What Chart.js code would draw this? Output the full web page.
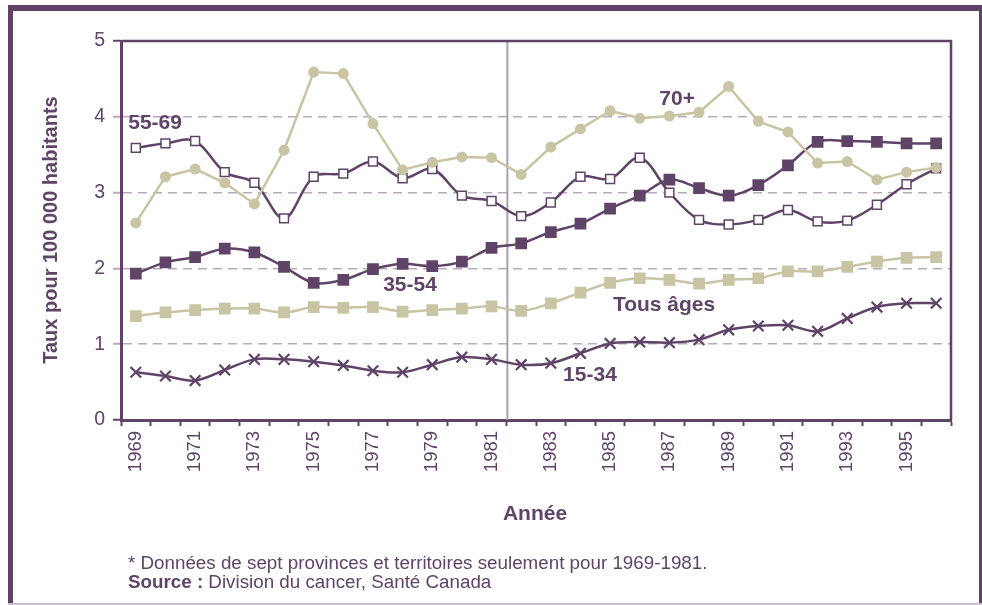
<!DOCTYPE html>
<html>
<head>
<meta charset="utf-8">
<script src="https://cdn.jsdelivr.net/npm/chart.js@4.4.1/dist/chart.umd.min.js"></script>
<style>
  html, body { margin: 0; padding: 0; background: #fff; }
  #wrap { position: relative; width: 982px; height: 605px; }
</style>
</head>
<body>
<div id="wrap"><canvas id="chart"></canvas></div>
<script>
// --- data ---
const years = [];
for (let y = 1969; y <= 1996; y++) years.push(String(y));

const age5569 = [3.59, 3.65, 3.68, 3.27, 3.13, 2.66, 3.21, 3.25, 3.41, 3.19, 3.31, 2.96, 2.89, 2.69,
                 2.87, 3.21, 3.18, 3.46, 3.00, 2.64, 2.58, 2.64, 2.77, 2.62, 2.63, 2.84, 3.11, 3.32];
const age70 = [2.60, 3.21, 3.31, 3.13, 2.85, 3.56, 4.59, 4.57, 3.91, 3.30, 3.40, 3.47, 3.46, 3.24,
               3.60, 3.84, 4.08, 3.98, 4.01, 4.06, 4.40, 3.94, 3.80, 3.39, 3.41, 3.17, 3.27, 3.33];
const age3554 = [1.93, 2.08, 2.15, 2.26, 2.21, 2.02, 1.81, 1.85, 1.99, 2.06, 2.03, 2.09, 2.27, 2.33,
                 2.48, 2.59, 2.79, 2.96, 3.17, 3.06, 2.96, 3.10, 3.36, 3.67, 3.68, 3.67, 3.65, 3.65];
const allAges = [1.37, 1.42, 1.45, 1.47, 1.47, 1.42, 1.49, 1.48, 1.49, 1.43, 1.45, 1.47, 1.50, 1.44,
                 1.54, 1.68, 1.81, 1.87, 1.85, 1.80, 1.85, 1.87, 1.96, 1.96, 2.02, 2.09, 2.14, 2.15];
const age1534 = [0.63, 0.58, 0.52, 0.66, 0.80, 0.80, 0.77, 0.72, 0.65, 0.63, 0.73, 0.83, 0.80, 0.73,
                 0.75, 0.88, 1.01, 1.03, 1.02, 1.06, 1.19, 1.24, 1.25, 1.17, 1.34, 1.49, 1.54, 1.54];

const seriesNames = ['55-69', '70+', '35-54', 'Tous âges', '15-34'];
const yTicks = [0, 1, 2, 3, 4, 5];

// --- colours ---
const purple = '#5f4468';
const khaki = '#c8c4a4';
const dashGrid = '#b9a9bb';
const splitLine = '#a99fab';
const fontFam = '"Liberation Sans", Arial, sans-serif';

// where the in-chart series names sit (category index, value)
const nameSpots = [
  { text: seriesNames[0], x: 0.65, y: 3.92 },
  { text: seriesNames[1], x: 18.26, y: 4.23 },
  { text: seriesNames[2], x: 9.25, y: 1.78 },
  { text: seriesNames[3], x: 17.82, y: 1.52 },
  { text: seriesNames[4], x: 15.32, y: 0.59 }
];

const decor = {
  id: 'decor',
  beforeDatasetsDraw(chart) {
    const { ctx, chartArea: a, scales: { x } } = chart;
    // 1982 split line
    const sx = x.getPixelForValue(12.5) + 1;
    ctx.save();
    ctx.strokeStyle = splitLine;
    ctx.lineWidth = 2;
    ctx.beginPath();
    ctx.moveTo(sx, a.top);
    ctx.lineTo(sx, a.bottom);
    ctx.stroke();
    ctx.restore();
  },
  afterDraw(chart) {
    const { ctx, chartArea: a, scales: { x, y } } = chart;
    ctx.save();
    // plot frame top + right
    ctx.strokeStyle = purple;
    ctx.lineWidth = 2.5;
    ctx.beginPath();
    ctx.moveTo(a.left, a.top);
    ctx.lineTo(a.right, a.top);
    ctx.lineTo(a.right, a.bottom);
    ctx.stroke();

    // outer frame
    ctx.fillStyle = purple;
    ctx.fillRect(8, 5, 974, 6);
    ctx.fillRect(8, 5, 5, 600);
    ctx.fillRect(979, 5, 3, 600);
    ctx.fillStyle = '#c9bccb';
    ctx.fillRect(8, 603, 974, 2);

    // series names
    ctx.fillStyle = purple;
    ctx.font = 'bold 21px ' + fontFam;
    ctx.textAlign = 'center';
    ctx.textBaseline = 'middle';
    nameSpots.forEach(s => {
      ctx.fillText(s.text, x.getPixelForValue(s.x), y.getPixelForValue(s.y));
    });

    // y title
    ctx.save();
    ctx.translate(51, 230);
    ctx.rotate(-Math.PI / 2);
    ctx.font = 'bold 20px ' + fontFam;
    ctx.fillText('Taux pour 100 000 habitants', 0, 0);
    ctx.restore();

    // x title
    ctx.font = 'bold 21px ' + fontFam;
    ctx.fillText('Année', 535, 514);

    // footnote
    ctx.textAlign = 'left';
    ctx.font = '18.8px ' + fontFam;
    ctx.fillText('* Données de sept provinces et territoires seulement pour 1969-1981.', 128, 564);
    ctx.font = 'bold 18.8px ' + fontFam;
    const src = 'Source :';
    ctx.fillText(src, 128, 583);
    const w = ctx.measureText(src).width;
    ctx.font = '18.8px ' + fontFam;
    ctx.fillText(' Division du cancer, Santé Canada', 128 + w, 583);
    ctx.restore();
  }
};

const ctx = document.getElementById('chart');
new Chart(ctx.getContext('2d'), {
  type: 'line',
  data: {
    labels: years,
    datasets: [
      {
        label: seriesNames[1], data: age70,
        borderColor: khaki, backgroundColor: khaki, borderWidth: 2.5, tension: 0,
        pointStyle: 'circle', pointRadius: 5.5, pointBorderWidth: 0
      },
      {
        label: seriesNames[3], data: allAges,
        borderColor: khaki, backgroundColor: khaki, borderWidth: 2.5, tension: 0.35,
        pointStyle: 'rect', pointRadius: 8.3, pointBorderWidth: 0
      },
      {
        label: seriesNames[0], data: age5569,
        borderColor: purple, backgroundColor: '#fff', borderWidth: 2.5, tension: 0.35,
        pointStyle: 'rect', pointRadius: 6.3, pointBorderWidth: 1.5
      },
      {
        label: seriesNames[2], data: age3554,
        borderColor: purple, backgroundColor: purple, borderWidth: 2.5, tension: 0.35,
        pointStyle: 'rect', pointRadius: 8.3, pointBorderWidth: 0
      },
      {
        label: seriesNames[4], data: age1534,
        borderColor: purple, backgroundColor: purple, borderWidth: 2.5, tension: 0.35,
        pointStyle: 'crossRot', pointRadius: 7.5, pointBorderWidth: 2.2
      }
    ]
  },
  options: {
    responsive: true,
    maintainAspectRatio: false,
    animation: false,
    layout: { padding: { left: 0, top: 41, right: 31, bottom: 0 } },
    plugins: { legend: { display: false }, tooltip: { enabled: false } },
    scales: {
      x: {
        type: 'category',
        offset: true,
        afterFit: (s) => { s.height = 185; },
        grid: { offset: true, drawOnChartArea: false, drawTicks: true, tickLength: 6, tickColor: purple, tickWidth: 2 },
        border: { color: purple, width: 3 },
        ticks: {
          autoSkip: false, maxRotation: 90, minRotation: 90, padding: 5,
          color: purple, font: { family: fontFam, size: 18.5 },
          callback: function (val, idx) { return idx % 2 === 0 ? this.getLabelForValue(val) : ''; }
        }
      },
      y: {
        min: yTicks[0], max: yTicks[yTicks.length - 1],
        afterFit: (s) => { s.width = 121; },
        afterBuildTicks: (s) => { s.ticks = yTicks.map(v => ({ value: v })); },
        grid: {
          color: (c) => (c.tick && c.tick.value > 0 && c.tick.value < 5) ? dashGrid : 'transparent',
          tickColor: (c) => (c.tick && c.tick.value > 0 && c.tick.value < 5) ? dashGrid : purple,
          lineWidth: 1.5, tickLength: 8, tickWidth: 2
        },
        border: { color: purple, width: 3, dash: [9, 6] },
        ticks: { color: purple, padding: 8, font: { family: fontFam, size: 19.5 } }
      }
    }
  },
  plugins: [decor]
});
</script>
</body>
</html>
